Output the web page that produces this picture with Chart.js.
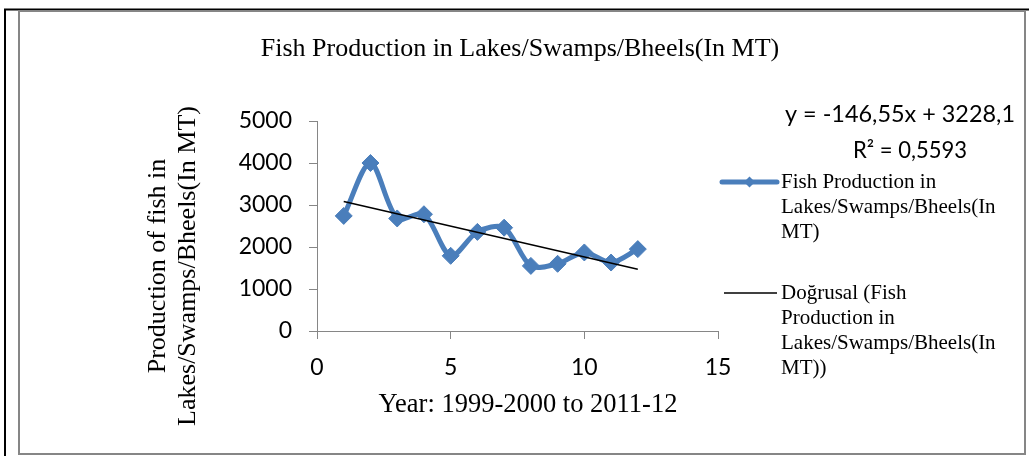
<!DOCTYPE html>
<html>
<head>
<meta charset="utf-8">
<script src="https://cdn.jsdelivr.net/npm/chart.js@4.4.1/dist/chart.umd.min.js"></script>
<style>
  html, body { margin: 0; padding: 0; background: #fff; }
  #wrap { width: 1029px; height: 456px; }
</style>
</head>
<body>
<div id="wrap"><canvas id="fishChart" width="1029" height="456"></canvas></div>
<script>
// --- data ---
const years = [1, 2, 3, 4, 5, 6, 7, 8, 9, 10, 11, 12];
const production = [2740, 4000, 2680, 2780, 1790, 2360, 2460, 1550, 1600, 1870, 1630, 1950];
const trendX = [1, 12];
const trendY = [3081.5, 1469.5];
const xTicks = [0, 5, 10, 15];
const yTicks = [0, 1000, 2000, 3000, 4000, 5000];

const titleText = "Fish Production in Lakes/Swamps/Bheels(In MT)";
const xTitle = "Year: 1999-2000 to 2011-12";
const yTitle = ["Production of fish in", "Lakes/Swamps/Bheels(In MT)"];
const equation = ["y = -146,55x + 3228,1", "R² = 0,5593"];
const legendSeries = ["Fish Production in", "Lakes/Swamps/Bheels(In", "MT)"];
const legendTrend = ["Doğrusal (Fish", "Production in", "Lakes/Swamps/Bheels(In", "MT))"];

const BLUE = "#4A7EBB";
const AXIS = "#868686";
const SERIF = "'Liberation Serif', 'Times New Roman', serif";

// text squeezed/stretched to the width it takes in the picture (Calibri is not here)
function fitText(ctx, text, cx, y, width) {
  const w = ctx.measureText(text).width;
  ctx.save();
  ctx.translate(cx, y);
  ctx.scale(width / w, 1);
  ctx.fillText(text, 0, 0);
  ctx.restore();
}

// titles, legend, equation and frame drawn by hand
const decorations = {
  id: "decorations",
  afterDraw(chart) {
    const ctx = chart.ctx;
    ctx.save();

    // outer frame
    ctx.strokeStyle = "#000";
    ctx.lineWidth = 2;
    ctx.beginPath();
    ctx.moveTo(4, 9.5);
    ctx.lineTo(1029, 9.5);
    ctx.moveTo(5, 9);
    ctx.lineTo(5, 456);
    ctx.stroke();
    ctx.strokeStyle = AXIS;
    ctx.strokeRect(19, 11, 1006, 443);

    ctx.fillStyle = "#000";
    ctx.font = "26px " + SERIF;
    ctx.textAlign = "center";
    ctx.textBaseline = "alphabetic";
    ctx.fillText(titleText, 520, 56);
    ctx.font = "26.5px " + SERIF;
    ctx.fillText(xTitle, 528, 412);

    // rotated y title
    ctx.save();
    ctx.font = "26px " + SERIF;
    ctx.translate(0, 266);
    ctx.rotate(-Math.PI / 2);
    ctx.fillText(yTitle[0], 0, 165);
    ctx.fillText(yTitle[1], 0, 195);
    ctx.restore();

    // trend equation
    ctx.font = "24px Lato, 'Open Sans', sans-serif";
    fitText(ctx, equation[0], 900, 122, 230);
    fitText(ctx, equation[1], 910, 158, 114);

    // legend
    ctx.textAlign = "left";
    ctx.textBaseline = "middle";
    ctx.font = "21px " + SERIF;
    ctx.strokeStyle = BLUE;
    ctx.lineWidth = 5;
    ctx.lineCap = "round";
    ctx.beginPath();
    ctx.moveTo(722, 182);
    ctx.lineTo(777, 182);
    ctx.stroke();
    ctx.fillStyle = BLUE;
    ctx.beginPath();
    ctx.moveTo(744, 182);
    ctx.lineTo(749.5, 176.5);
    ctx.lineTo(755, 182);
    ctx.lineTo(749.5, 187.5);
    ctx.closePath();
    ctx.fill();
    ctx.fillStyle = "#000";
    legendSeries.forEach((t, i) => ctx.fillText(t, 781, 182 + i * 25));

    ctx.strokeStyle = "#000";
    ctx.lineWidth = 1.5;
    ctx.lineCap = "butt";
    ctx.beginPath();
    ctx.moveTo(724, 293);
    ctx.lineTo(777, 293);
    ctx.stroke();
    legendTrend.forEach((t, i) => ctx.fillText(t, 781, 293 + i * 25));

    ctx.restore();
  },
};

const ctx = document.getElementById("fishChart").getContext("2d");
new Chart(ctx, {
  type: "line",
  data: {
    datasets: [
      {
        label: "Doğrusal (Fish Production in Lakes/Swamps/Bheels(In MT))",
        data: trendX.map((x, i) => ({ x, y: trendY[i] })),
        borderColor: "#000",
        borderWidth: 1.5,
        pointRadius: 0,
        tension: 0,
        order: 0,
      },
      {
        label: "Fish Production in Lakes/Swamps/Bheels(In MT)",
        data: years.map((x, i) => ({ x, y: production[i] })),
        borderColor: BLUE,
        backgroundColor: BLUE,
        borderWidth: 5,
        tension: 0.3,
        pointStyle: "rectRot",
        pointRadius: 8.5,
        pointBorderWidth: 1,
        order: 1,
      },
    ],
  },
  options: {
    responsive: false,
    animation: false,
    devicePixelRatio: 1,
    layout: { padding: { left: 0, top: 121, right: 311, bottom: 0 } },
    plugins: {
      legend: { display: false },
      title: { display: false },
      tooltip: { enabled: false },
    },
    scales: {
      x: {
        type: "linear",
        min: 0,
        max: 15,
        afterFit: (s) => { s.height = 125; },
        afterBuildTicks: (s) => { s.ticks = xTicks.map((v) => ({ value: v })); },
        grid: { drawOnChartArea: false, drawTicks: true, tickLength: 8, color: AXIS },
        border: { color: AXIS, width: 1 },
        ticks: { color: "#000", padding: 15, font: { family: "Lato", size: 23 }, callback: (v) => String(v) },
      },
      y: {
        min: 0,
        max: 5000,
        afterFit: (s) => { s.width = 317; },
        afterBuildTicks: (s) => { s.ticks = yTicks.map((v) => ({ value: v })); },
        grid: { drawOnChartArea: false, drawTicks: true, tickLength: 8, color: AXIS },
        border: { color: AXIS, width: 1 },
        ticks: { color: "#000", padding: 17, font: { family: "Lato", size: 23 }, callback: (v) => String(v) },
      },
    },
  },
  plugins: [decorations],
});
</script>
</body>
</html>
